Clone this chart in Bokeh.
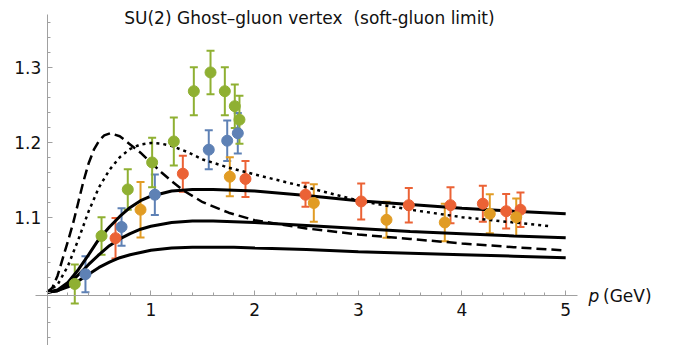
from bokeh.plotting import figure
from bokeh.models import Range1d, FixedTicker, Whisker, TeeHead, ColumnDataSource, Label
from bokeh.embed import file_html
from bokeh.resources import INLINE

# ---- model curves ----
curve_x = [0.0, 0.1, 0.2, 0.3, 0.4, 0.5, 0.6, 0.7, 0.8, 0.9, 1.0, 1.2, 1.4, 1.6, 1.8,
           2.0, 2.5, 3.0, 3.5, 4.0, 4.5, 5.0]
solid_top = [1.0, 1.003, 1.013, 1.030, 1.050, 1.071, 1.087, 1.101, 1.113, 1.122, 1.128,
             1.135, 1.137, 1.137, 1.136, 1.135, 1.129, 1.122, 1.117, 1.112, 1.108, 1.1045]
solid_mid = [1.0, 1.002, 1.010, 1.023, 1.037, 1.050, 1.062, 1.071, 1.078, 1.084, 1.088,
             1.093, 1.095, 1.095, 1.094, 1.093, 1.089, 1.085, 1.081, 1.078, 1.075, 1.0725]
solid_low = [1.0, 1.002, 1.007, 1.015, 1.024, 1.033, 1.040, 1.046, 1.050, 1.053, 1.056,
             1.059, 1.060, 1.060, 1.060, 1.059, 1.057, 1.054, 1.052, 1.050, 1.048, 1.046]

dash_x = [0.0, 0.05, 0.1, 0.15, 0.2, 0.25, 0.3, 0.35, 0.4, 0.45, 0.5, 0.55, 0.61, 0.7, 0.8,
          0.9, 1.0, 1.1, 1.2, 1.32, 1.5, 1.75, 2.0, 2.5, 3.0, 3.5, 4.0, 4.5, 5.0]
dashed = [1.0, 1.006, 1.022, 1.045, 1.068, 1.092, 1.120, 1.148, 1.172, 1.190, 1.202, 1.209,
          1.212, 1.208, 1.197, 1.186, 1.173, 1.160, 1.148, 1.135, 1.120, 1.106, 1.096, 1.085,
          1.077, 1.071, 1.065, 1.060, 1.0556]

dot_x = [0.0, 0.1, 0.2, 0.3, 0.4, 0.5, 0.6, 0.7, 0.8, 0.9, 1.0, 1.1, 1.2, 1.35, 1.5,
         1.75, 2.0, 2.5, 3.0, 3.5, 4.0, 4.5, 4.85]
dotted = [1.0, 1.010, 1.035, 1.070, 1.108, 1.140, 1.163, 1.180, 1.191, 1.197, 1.199, 1.198,
          1.195, 1.187, 1.177, 1.166, 1.157, 1.140, 1.122, 1.110, 1.100, 1.093, 1.088]

# ---- lattice data ----
green_x = [0.266, 0.524, 0.777, 1.012, 1.221, 1.414, 1.575, 1.713, 1.809, 1.854]
green_y = [1.011, 1.075, 1.137, 1.173, 1.201, 1.268, 1.293, 1.268, 1.248, 1.230]
green_e = [0.026, 0.025, 0.027, 0.033, 0.032, 0.032, 0.029, 0.032, 0.029, 0.032]

blue_x = [0.369, 0.717, 1.038, 1.558, 1.736, 1.838]
blue_y = [1.024, 1.087, 1.130, 1.190, 1.202, 1.212]
blue_e = [0.024, 0.025, 0.027, 0.026, 0.027, 0.027]

red_x = [0.659, 1.308, 1.912, 2.491, 3.028, 3.487, 3.889, 4.201, 4.426, 4.564]
red_y = [1.072, 1.158, 1.151, 1.130, 1.121, 1.116, 1.116, 1.118, 1.108, 1.110]
red_e = [0.027, 0.024, 0.024, 0.016, 0.024, 0.023, 0.024, 0.024, 0.023, 0.023]

orange_x = [0.900, 1.761, 2.571, 3.272, 3.834, 4.268, 4.523]
orange_y = [1.110, 1.154, 1.119, 1.0965, 1.093, 1.1045, 1.100]
orange_e = [0.037, 0.026, 0.025, 0.024, 0.025, 0.026, 0.025]

x_ticks = [1, 2, 3, 4, 5]
x_minor = [0.2, 0.4, 0.6, 0.8, 1.2, 1.4, 1.6, 1.8, 2.2, 2.4, 2.6, 2.8, 3.2, 3.4, 3.6, 3.8,
           4.2, 4.4, 4.6, 4.8]
y_ticks = [1.1, 1.2, 1.3]
y_minor = [0.94, 0.96, 0.98, 1.0, 1.02, 1.04, 1.06, 1.08, 1.12, 1.14, 1.16, 1.18, 1.22,
           1.24, 1.26, 1.28, 1.32, 1.34, 1.36]

title_text = "SU(2) Ghost\u2013gluon vertex \u00a0(soft-gluon limit)"

FONT = "DejaVu Sans"
AXIS_GRAY = "#a0a0a0"

p = figure(width=673, height=345,
           x_range=Range1d(-0.4503, 6.0396), y_range=Range1d(0.92893, 1.38893),
           output_backend="svg", toolbar_location=None, min_border=0)
p.outline_line_color = None
p.grid.visible = False
p.background_fill_color = "white"

# axes crossing inside the plot
xa = p.xaxis[0]
ya = p.yaxis[0]
xa.fixed_location = 0.995
ya.fixed_location = 0.0
xa.bounds = (-0.11, 5.11)
ya.bounds = (0.929, 1.370)
xa.ticker = FixedTicker(ticks=x_ticks, minor_ticks=x_minor)
ya.ticker = FixedTicker(ticks=y_ticks, minor_ticks=y_minor)
for ax in (xa, ya):
    ax.axis_line_color = AXIS_GRAY
    ax.axis_line_width = 1
    ax.major_tick_line_color = AXIS_GRAY
    ax.minor_tick_line_color = AXIS_GRAY
    ax.major_tick_in = 5
    ax.major_tick_out = 0
    ax.minor_tick_in = 3
    ax.minor_tick_out = 0
    ax.major_label_text_font = FONT
    ax.major_label_text_font_size = "17px"
    ax.major_label_text_color = "#111111"
xa.major_label_standoff = 7
ya.major_label_standoff = 6
ya.major_label_overrides = {1.1: "1.1", 1.2: "1.2", 1.3: "1.3"}

# model curves
p.line(curve_x, solid_top, line_color="black", line_width=3)
p.line(curve_x, solid_mid, line_color="black", line_width=3)
p.line(curve_x, solid_low, line_color="black", line_width=3)
p.line(dash_x, dashed, line_color="black", line_width=2.5, line_dash="10 5")
p.line(dot_x, dotted, line_color="black", line_width=2.5, line_dash="3 4")

series = [
    (blue_x, blue_y, blue_e, "#5E81B5"),
    (red_x, red_y, red_e, "#EB6235"),
    (orange_x, orange_y, orange_e, "#E19C24"),
    (green_x, green_y, green_e, "#8FB032"),
]
for xs, ys, es, col in series:
    src = ColumnDataSource(dict(x=xs, y=ys,
                                lo=[a - b for a, b in zip(ys, es)],
                                hi=[a + b for a, b in zip(ys, es)]))
    w = Whisker(source=src, base="x", lower="lo", upper="hi",
                line_color=col, line_width=2,
                upper_head=TeeHead(size=8, line_color=col, line_width=2),
                lower_head=TeeHead(size=8, line_color=col, line_width=2))
    p.add_layout(w)
    p.scatter("x", "y", source=src, size=11, fill_color=col, line_color=col)

# title and axis label
p.add_layout(Label(x=2.529, y=1.3659, text=title_text, text_align="center",
                   text_baseline="alphabetic", text_font=FONT,
                   text_font_size="17px", text_color="#111111"))
p.add_layout(Label(x=5.22, y=0.995, text="p", text_align="left",
                   text_baseline="middle", text_font=FONT, text_font_style="italic",
                   text_font_size="17px", text_color="#111111"))
p.add_layout(Label(x=5.36, y=0.995, text="(GeV)", text_align="left",
                   text_baseline="middle", text_font=FONT,
                   text_font_size="17px", text_color="#111111"))

open("out.html", "w").write(file_html(p, INLINE))
